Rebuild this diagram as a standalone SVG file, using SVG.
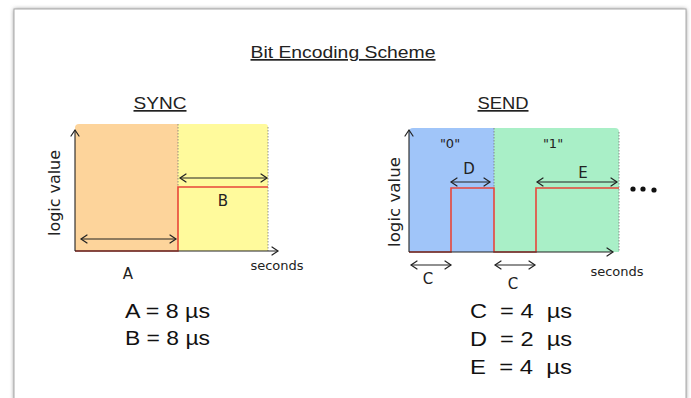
<svg xmlns="http://www.w3.org/2000/svg" width="691" height="398" viewBox="0 0 691 398">
<defs>
<filter id="sh" x="-5%" y="-5%" width="110%" height="110%"><feGaussianBlur stdDeviation="2"/></filter>
<marker id="ah" viewBox="-8 -5 10 10" refX="0" refY="0" markerWidth="10" markerHeight="10" markerUnits="userSpaceOnUse" orient="auto-start-reverse"><path d="M-6,-4 L0,0 L-6,4" fill="none" stroke="#222" stroke-width="1.2" stroke-linecap="round"/></marker>
</defs>
<style>
.ttl{font-family:"Liberation Sans",Arial,sans-serif;font-size:17px;fill:#222;text-decoration:underline}
.hw{font-family:"DejaVu Sans",sans-serif;font-size:13px;fill:#222}
.lt{font-family:"DejaVu Sans",sans-serif;font-size:15px;fill:#222}
.eq{font-family:"Liberation Sans",Arial,sans-serif;font-size:20px;fill:#111}
.ax{stroke:#222;stroke-width:1.1;fill:none}
.dbl{stroke:#222;stroke-width:1.1;fill:none;marker-start:url(#ah);marker-end:url(#ah)}
.sig{stroke:#e8463a;stroke-width:1.6;fill:none}
.dot{stroke:#777;stroke-width:0.8;stroke-dasharray:1.5 1.5;fill:none}
</style>
<rect x="0" y="0" width="691" height="398" fill="#fff"/>
<rect x="14" y="9" width="672" height="392" fill="#888" filter="url(#sh)"/>
<rect x="14" y="9" width="672" height="392" fill="#fff" stroke="#aaa" stroke-width="1"/>

<g id="title"><text class="ttl" x="343" y="58" text-anchor="middle" textLength="185" lengthAdjust="spacingAndGlyphs">Bit Encoding Scheme</text></g>

<g id="sync">
<text class="ttl" x="160" y="109" text-anchor="middle" textLength="53" lengthAdjust="spacingAndGlyphs">SYNC</text>
<path d="M75,251 V128 Q75,124 79,124 H178 V251 Z" fill="#fdd49b"/>
<path d="M178,251 V124 H265 Q268,124 268,127 V251 Z" fill="#fffa9c"/>
<line class="dot" x1="178" y1="124" x2="178" y2="187"/>
<line class="dot" x1="268" y1="127" x2="268" y2="251"/>
<path class="sig" d="M75,251 H178 V187 H268"/>
<line class="ax" x1="75" y1="251" x2="75" y2="130" marker-end="url(#ah)"/>
<line class="ax" x1="75" y1="251" x2="278" y2="251" marker-end="url(#ah)"/>
<line class="dbl" x1="81" y1="239" x2="176" y2="239"/>
<line class="dbl" x1="180" y1="178" x2="267" y2="178"/>
<text class="lt" x="223" y="206" text-anchor="middle">B</text>
<text class="lt" x="128" y="279" text-anchor="middle">A</text>
<text class="hw" x="277" y="270" text-anchor="middle">seconds</text>
<text class="lt" transform="translate(60,193) rotate(-90)" text-anchor="middle" textLength="86" lengthAdjust="spacingAndGlyphs">logic value</text>
</g>

<g id="send">
<text class="ttl" x="503" y="109" text-anchor="middle" textLength="51" lengthAdjust="spacingAndGlyphs">SEND</text>
<path d="M409,252 V132 Q409,128 413,128 H494 V252 Z" fill="#a0c5f9"/>
<path d="M494,252 V128 H615 Q619,128 619,132 V252 Z" fill="#a9efc7"/>
<line class="dot" x1="494" y1="128" x2="494" y2="188"/>
<line class="dot" x1="619" y1="132" x2="619" y2="252"/>
<path class="sig" d="M409,252 H451 V188 H494 V252 H536 V188 H619"/>
<line class="ax" x1="409" y1="252" x2="409" y2="130" marker-end="url(#ah)"/>
<line class="ax" x1="409" y1="252" x2="613" y2="252" marker-end="url(#ah)"/>
<line class="dbl" x1="451" y1="182" x2="490" y2="182"/>
<line class="dbl" x1="537" y1="182" x2="617" y2="182"/>
<line class="dbl" x1="411" y1="265" x2="451" y2="265"/>
<line class="dbl" x1="495" y1="265" x2="535" y2="265"/>
<text class="hw" x="450" y="148" text-anchor="middle">"0"</text>
<text class="hw" x="553" y="148" text-anchor="middle">"1"</text>
<text class="lt" x="469" y="174" text-anchor="middle">D</text>
<text class="lt" x="583" y="178" text-anchor="middle">E</text>
<text class="lt" x="428" y="284" text-anchor="middle">C</text>
<text class="lt" x="513" y="289" text-anchor="middle">C</text>
<text class="hw" x="617" y="276" text-anchor="middle">seconds</text>
<text class="lt" transform="translate(400,202) rotate(-90)" text-anchor="middle" textLength="90" lengthAdjust="spacingAndGlyphs">logic value</text>
<circle cx="633" cy="189" r="2.6" fill="#111"/>
<circle cx="643" cy="189" r="2.6" fill="#111"/>
<circle cx="654" cy="190" r="2.6" fill="#111"/>
</g>

<g id="values-sync">
<text class="eq" x="125" y="318" textLength="85" lengthAdjust="spacingAndGlyphs">A = 8 µs</text>
<text class="eq" x="125" y="345" textLength="85" lengthAdjust="spacingAndGlyphs">B = 8 µs</text>
</g>
<g id="values-send">
<text class="eq" x="470" y="318" xml:space="preserve" textLength="102" lengthAdjust="spacingAndGlyphs">C  = 4  µs</text>
<text class="eq" x="470" y="346" xml:space="preserve" textLength="102" lengthAdjust="spacingAndGlyphs">D  = 2  µs</text>
<text class="eq" x="470" y="374" xml:space="preserve" textLength="102" lengthAdjust="spacingAndGlyphs">E  = 4  µs</text>
</g>
</svg>
